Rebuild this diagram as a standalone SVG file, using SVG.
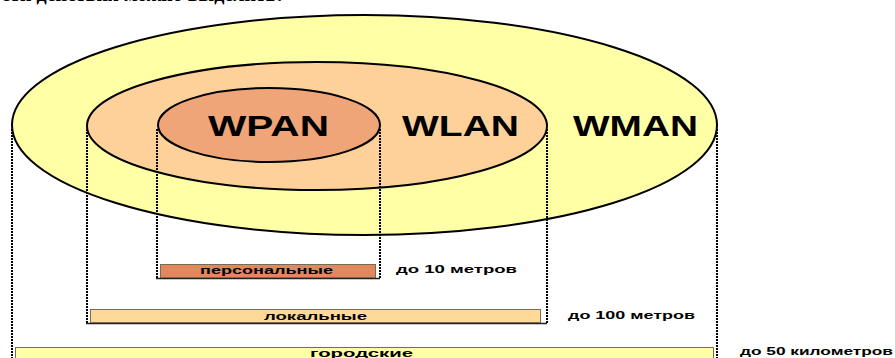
<svg xmlns="http://www.w3.org/2000/svg" width="895" height="358" viewBox="0 0 895 358">
<style>
.ell{stroke:#000;stroke-width:2}
.big{font-family:"Liberation Sans",Arial,sans-serif;font-weight:bold;font-size:29px;fill:#000}
.sm{font-family:"Liberation Sans",Arial,sans-serif;font-weight:bold;font-size:10px;fill:#000}
.bar{stroke:#7a6a55;stroke-width:1}
.shadow{stroke:#222;stroke-width:1.5}
.dot{stroke:#000;stroke-width:2;stroke-dasharray:2 1;fill:none}
.head{font-family:"Liberation Serif","Times New Roman",serif;font-weight:bold;font-size:20px;fill:#000}
</style>
<rect width="895" height="358" fill="#fff"/>
<text class="head" x="283" y="1" text-anchor="end">По дальности действия можно выделить:</text>
<g id="wman">
<ellipse class="ell" cx="364.5" cy="125" rx="352.5" ry="110" fill="#FFFFA6"/>
</g>
<g id="wlan">
<ellipse class="ell" cx="317" cy="126" rx="230" ry="64" fill="#FFD19A"/>
</g>
<g id="wpan">
<ellipse class="ell" cx="269" cy="125" rx="111" ry="37" fill="#EFA577"/>
</g>
<g id="labels">
<text class="big" x="208" y="136" textLength="121" lengthAdjust="spacingAndGlyphs">WPAN</text>
<text class="big" x="402" y="136" textLength="117" lengthAdjust="spacingAndGlyphs">WLAN</text>
<text class="big" x="573" y="136" textLength="125" lengthAdjust="spacingAndGlyphs">WMAN</text>
</g>
<g id="connectors">
<line class="dot" x1="12" y1="129" x2="12" y2="358"/>
<line class="dot" x1="717" y1="129" x2="717" y2="358"/>
<line class="dot" x1="87" y1="129" x2="87" y2="324"/>
<line class="dot" x1="547" y1="129" x2="547" y2="324"/>
<line class="dot" x1="157" y1="129" x2="157" y2="279"/>
<line class="dot" x1="380" y1="129" x2="380" y2="279"/>
</g>
<g id="bar-personal">
<line class="shadow" x1="156" y1="278.5" x2="380" y2="278.5"/>
<rect class="bar" x="160.5" y="264.5" width="215" height="13" fill="#E2885C"/>
<text class="sm" x="200" y="274" textLength="133" lengthAdjust="spacingAndGlyphs">персональные</text>
<text class="sm" x="396" y="273" textLength="121" lengthAdjust="spacingAndGlyphs">до 10 метров</text>
</g>
<g id="bar-local">
<line class="shadow" x1="86" y1="323.5" x2="547" y2="323.5"/>
<rect class="bar" x="90.5" y="309.5" width="450" height="13" fill="#FFD998"/>
<text class="sm" x="264" y="320" textLength="103" lengthAdjust="spacingAndGlyphs">локальные</text>
<text class="sm" x="568" y="319" textLength="127" lengthAdjust="spacingAndGlyphs">до 100 метров</text>
</g>
<g id="bar-city">
<rect class="bar" x="15.5" y="347.5" width="698" height="14" fill="#FFFFA6"/>
<text class="sm" x="310" y="357" textLength="103" lengthAdjust="spacingAndGlyphs">городские</text>
<text class="sm" x="740" y="355" textLength="153" lengthAdjust="spacingAndGlyphs">до 50 километров</text>
</g>
</svg>
